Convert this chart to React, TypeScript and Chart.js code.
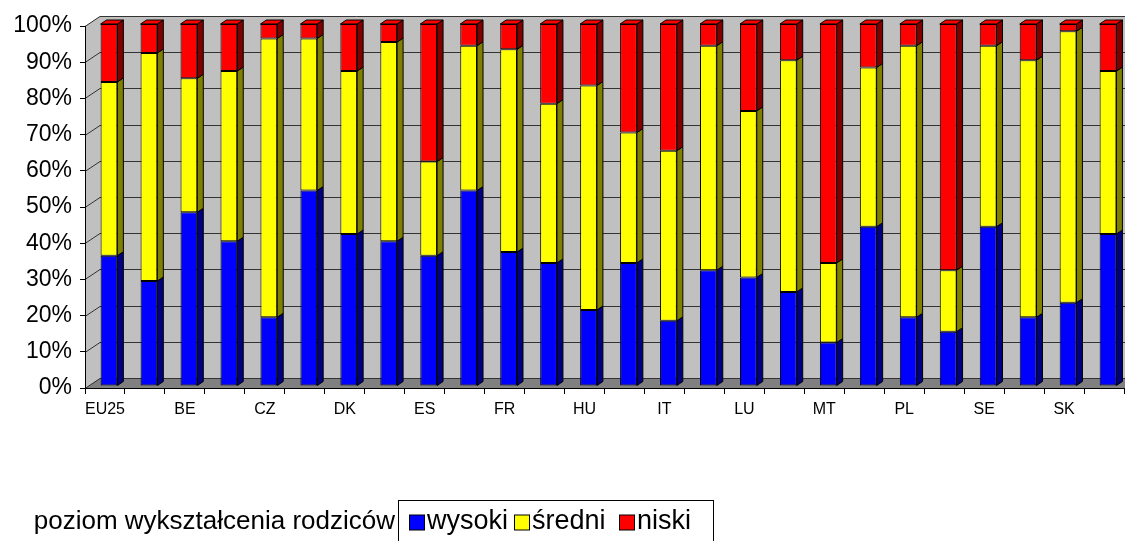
import React, { useEffect, useRef } from 'react';
import { Chart, registerables } from 'chart.js';

Chart.register(...registerables);

const categories = ['EU25', 'AT', 'BE', 'CY', 'CZ', 'DE', 'DK', 'EE', 'ES', 'FI', 'FR', 'GR', 'HU', 'IE', 'IT', 'LT', 'LU', 'LV', 'MT', 'NL', 'PL', 'PT', 'SE', 'SI', 'SK', 'UK'];
const wysoki = [36, 29, 48, 40, 19, 54, 42, 40, 36, 54, 37, 34, 21, 34, 18, 32, 30, 26, 12, 44, 19, 15, 44, 19, 23, 42];
const sredni = [48, 63, 37, 47, 77, 42, 45, 55, 26, 40, 56, 44, 62, 36, 47, 62, 46, 64, 22, 44, 75, 17, 50, 71, 75, 45];
const niski = [16, 8, 15, 13, 4, 4, 13, 5, 38, 6, 7, 22, 17, 30, 35, 6, 24, 10, 66, 12, 6, 68, 6, 10, 2, 13];
const seriesLabels = ['wysoki', 'średni', 'niski'];
const legendTitle = 'poziom wykształcenia rodziców';
const yTickValues = [0, 10, 20, 30, 40, 50, 60, 70, 80, 90, 100];

const FONT = "Arial, 'Liberation Sans', sans-serif";
const frontColors = ['#0000FF', '#FFFF00', '#FF0000'];
const sideColors = ['#000080', '#808000', '#800000'];

const WALL_DX = 15;
const WALL_DY = 10;
const BAR_SHIFT_X = 4;
const BAR_SHIFT_Y = 2;
const DEPTH_X = 6;
const DEPTH_Y = 4;

const threeD = {
  id: 'threeD',
  beforeDraw(chart: any) {
    const { ctx, chartArea } = chart;
    const { left, right, top, bottom } = chartArea;
    const y = chart.scales.y;
    ctx.save();
    ctx.fillStyle = '#C0C0C0';
    ctx.fillRect(left + WALL_DX, top - WALL_DY, right - left + 20, bottom - top);
    ctx.beginPath();
    ctx.moveTo(left, top);
    ctx.lineTo(left + WALL_DX, top - WALL_DY);
    ctx.lineTo(left + WALL_DX, bottom - WALL_DY);
    ctx.lineTo(left, bottom);
    ctx.closePath();
    ctx.fill();
    ctx.fillStyle = '#808080';
    ctx.beginPath();
    ctx.moveTo(left, bottom);
    ctx.lineTo(left + WALL_DX, bottom - WALL_DY);
    ctx.lineTo(right + WALL_DX + 20, bottom - WALL_DY);
    ctx.lineTo(right + 20, bottom);
    ctx.closePath();
    ctx.fill();
    ctx.strokeStyle = '#333333';
    ctx.lineWidth = 1;
    yTickValues.forEach((v) => {
      const py = Math.round(y.getPixelForValue(v)) + 0.5;
      ctx.beginPath();
      ctx.moveTo(left, py);
      ctx.lineTo(left + WALL_DX, py - WALL_DY);
      ctx.lineTo(right + WALL_DX + 20, py - WALL_DY);
      ctx.stroke();
    });
    ctx.restore();
  },
  beforeDatasetsDraw(chart: any) {
    chart.ctx.save();
    chart.ctx.translate(BAR_SHIFT_X, -BAR_SHIFT_Y);
  },
  afterDatasetsDraw(chart: any) {
    const ctx = chart.ctx;
    const n = chart.data.datasets.length;
    ctx.lineWidth = 1;
    ctx.strokeStyle = '#000000';
    chart.data.datasets.forEach((ds: any, i: number) => {
      const meta = chart.getDatasetMeta(i);
      meta.data.forEach((bar: any) => {
        const p = bar.getProps(['x', 'y', 'base', 'width'], true);
        const x1 = p.x - p.width / 2;
        const x2 = p.x + p.width / 2;
        const t = Math.min(p.y, p.base);
        const b = Math.max(p.y, p.base);
        ctx.beginPath();
        ctx.moveTo(x2, b);
        ctx.lineTo(x2, t);
        ctx.lineTo(x2 + DEPTH_X, t - DEPTH_Y);
        ctx.lineTo(x2 + DEPTH_X, b - DEPTH_Y);
        ctx.closePath();
        ctx.fillStyle = sideColors[i];
        ctx.fill();
        ctx.stroke();
        if (i === n - 1) {
          ctx.beginPath();
          ctx.moveTo(x1, t);
          ctx.lineTo(x1 + DEPTH_X, t - DEPTH_Y);
          ctx.lineTo(x2 + DEPTH_X, t - DEPTH_Y);
          ctx.lineTo(x2, t);
          ctx.closePath();
          ctx.fillStyle = frontColors[i];
          ctx.fill();
          ctx.stroke();
        }
      });
    });
    ctx.restore();
  },
  afterDraw(chart: any) {
    const ctx = chart.ctx;
    ctx.save();
    ctx.fillStyle = '#000';
    ctx.textBaseline = 'middle';
    const cy = 522;
    const boxLeft = 398;
    const boxRight = 713;
    ctx.font = `26px ${FONT}`;
    ctx.textAlign = 'right';
    ctx.fillText(legendTitle, boxLeft - 3, cy);
    ctx.textAlign = 'left';
    ctx.font = `27px ${FONT}`;
    const sq = 15;
    const slot = 105;
    seriesLabels.forEach((label, i) => {
      const x = boxLeft + 11 + i * slot;
      ctx.fillStyle = frontColors[i];
      ctx.fillRect(x + 0.5, cy - sq / 2 + 0.5, sq, sq);
      ctx.strokeStyle = '#000';
      ctx.lineWidth = 1;
      ctx.strokeRect(x + 0.5, cy - sq / 2 + 0.5, sq, sq);
      ctx.fillStyle = '#000';
      ctx.fillText(label, x + sq + 3, cy);
    });
    ctx.strokeStyle = '#000';
    ctx.lineWidth = 1;
    ctx.strokeRect(boxLeft + 0.5, 500.5, boxRight - boxLeft, 50);
    ctx.restore();
  },
};

export default function App() {
  const canvasRef = useRef<HTMLCanvasElement | null>(null);

  useEffect(() => {
    document.body.style.margin = '0';
    const canvas = canvasRef.current;
    if (!canvas) return;
    Chart.defaults.font.family = FONT;
    Chart.defaults.color = '#000';
    const chart = new Chart(canvas, {
      type: 'bar',
      data: {
        labels: categories,
        datasets: [
          { label: seriesLabels[0], data: wysoki, backgroundColor: frontColors[0] },
          { label: seriesLabels[1], data: sredni, backgroundColor: frontColors[1] },
          { label: seriesLabels[2], data: niski, backgroundColor: frontColors[2] },
        ].map((d) => ({
          ...d,
          borderColor: '#000',
          borderWidth: 1,
          borderSkipped: false,
          categoryPercentage: 1,
          barPercentage: 0.42,
          clip: false as any,
        })),
      },
      options: {
        responsive: false,
        animation: false,
        layout: { padding: { top: 26, right: 1, left: 0, bottom: 0 } },
        plugins: {
          legend: { display: false },
          tooltip: { enabled: false },
        },
        scales: {
          x: {
            stacked: true,
            offset: true,
            grid: {
              display: true,
              drawOnChartArea: false,
              drawTicks: true,
              tickLength: 6,
              color: '#000',
              offset: true,
            },
            border: { display: true, color: '#000', width: 1 },
            ticks: {
              autoSkip: false,
              maxRotation: 0,
              padding: 6,
              font: { size: 16, family: FONT },
              color: '#000',
              callback: (_v: any, i: number) => (i % 2 === 0 ? categories[i] : ''),
            },
            afterFit: (scale: any) => {
              scale.height = 153;
            },
          },
          y: {
            stacked: true,
            min: 0,
            max: 100,
            grid: {
              display: true,
              drawOnChartArea: false,
              drawTicks: true,
              tickLength: 5,
              color: '#000',
            },
            border: { display: true, color: '#000', width: 1 },
            ticks: {
              stepSize: 10,
              padding: 8,
              font: { size: 23, family: FONT },
              color: '#000',
              callback: (v: any) => `${v}%`,
            },
            afterFit: (scale: any) => {
              scale.width = 85;
            },
          },
        },
      },
      plugins: [threeD],
    });
    return () => chart.destroy();
  }, []);

  return (
    <div style={{ width: 1125, height: 541 }}>
      <canvas ref={canvasRef} width={1125} height={541} style={{ display: 'block' }} />
    </div>
  );
}
